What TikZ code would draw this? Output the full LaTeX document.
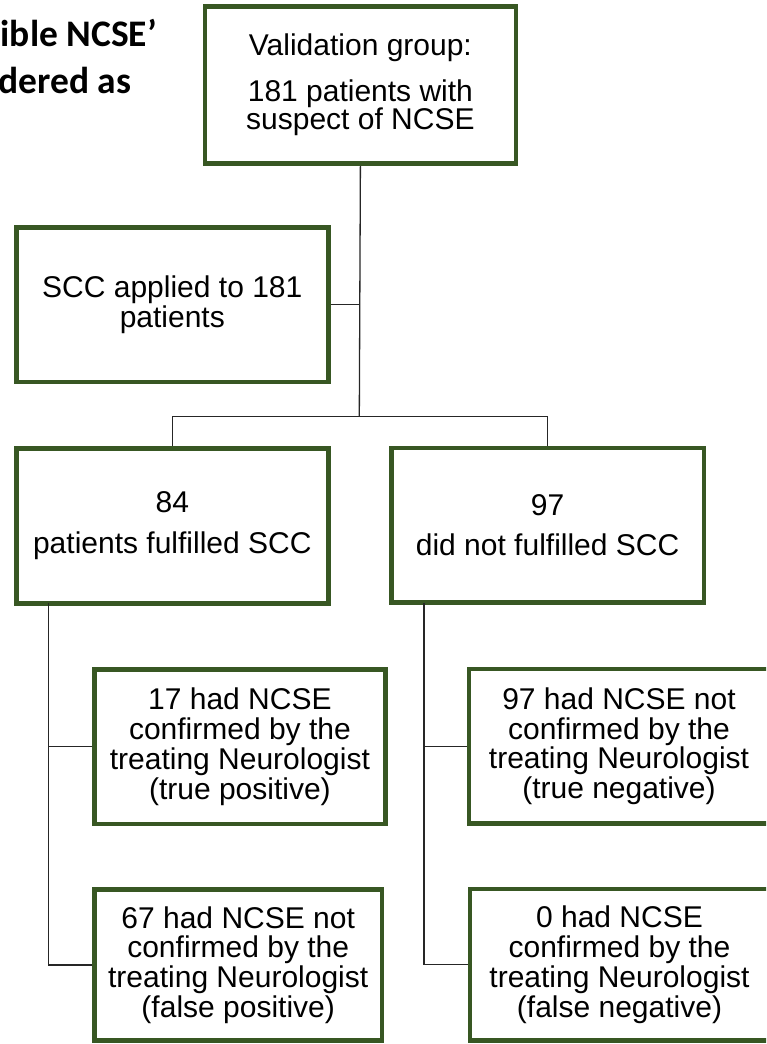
\documentclass[tikz,border=0pt]{standalone}
\usepackage{fontspec}
\setmainfont{Liberation Sans}
\newfontfamily\titlefont{Carlito}
\definecolor{boxgreen}{RGB}{56,87,35}
\begin{document}
\begin{tikzpicture}[x=1pt,y=-1pt,
  flowbox/.style={draw=boxgreen, line width=4.5pt, fill=white, inner sep=0pt,
    align=center, font=\fontsize{30}{29.8}\selectfont},
  link/.style={draw=black!85, line width=1.3pt},
  titletext/.style={anchor=base east, inner sep=0pt, font=\titlefont\bfseries\fontsize{37.5}{37.5}\selectfont}]
\useasboundingbox (0,0) rectangle (766,1044);
\clip (0,0) rectangle (766,1044);
% partial title
\node[titletext] (t1) at (157,46.7) {ible NCSE’};
\node[titletext] (t2) at (131.7,93) {dered as};
% boxes
\node[flowbox, minimum width=310.8pt, minimum height=157.4pt, font=\fontsize{30}{28.5}\selectfont] (top) at (360.4,85)
  {Validation group:\\[17pt]181 patients with\\suspect of NCSE};
\node[flowbox, minimum width=312pt, minimum height=154.5pt] (scc) at (172.3,304.5)
  {SCC applied to 181\\patients};
\node[flowbox, minimum width=312pt, minimum height=155pt] (pos) at (172.3,525.8)
  {84\\[11pt]patients fulfilled SCC};
\node[flowbox, minimum width=312.3pt, minimum height=154.5pt] (neg) at (547.6,525.2)
  {97\\[11pt]did not fulfilled SCC};
\node[flowbox, minimum width=291.2pt, minimum height=154.3pt] (tp) at (239.9,746.6)
  {17 had NCSE\\confirmed by the\\treating Neurologist\\(true positive)};
\node[flowbox, minimum width=287.7pt, minimum height=151pt] (fp) at (238.2,965)
  {67 had NCSE not\\confirmed by the\\treating Neurologist\\(false positive)};
\node[flowbox, minimum width=300pt, minimum height=154.5pt] (tn) at (619,746.2)
  {97 had NCSE not\\confirmed by the\\treating Neurologist\\(true negative)};
\node[flowbox, minimum width=299pt, minimum height=151.5pt] (fn) at (619.5,964.7)
  {0 had NCSE\\confirmed by the\\treating Neurologist\\(false negative)};
% connectors
\coordinate (j) at (359.3,416.7);
\coordinate (ls) at (48.7,603);
\coordinate (rs) at (424,603);
\draw[link] (top.south) -- (j);
\draw[link] (scc.east) -- (scc.east -| j);
\draw[link] (pos.north) |- (j) -| (neg.north);
\draw[link] (ls) |- (tp.west);
\draw[link] (ls) |- (fp.west);
\draw[link] (rs) |- (tn.west);
\draw[link] (rs) |- (fn.west);
\end{tikzpicture}
\end{document}
